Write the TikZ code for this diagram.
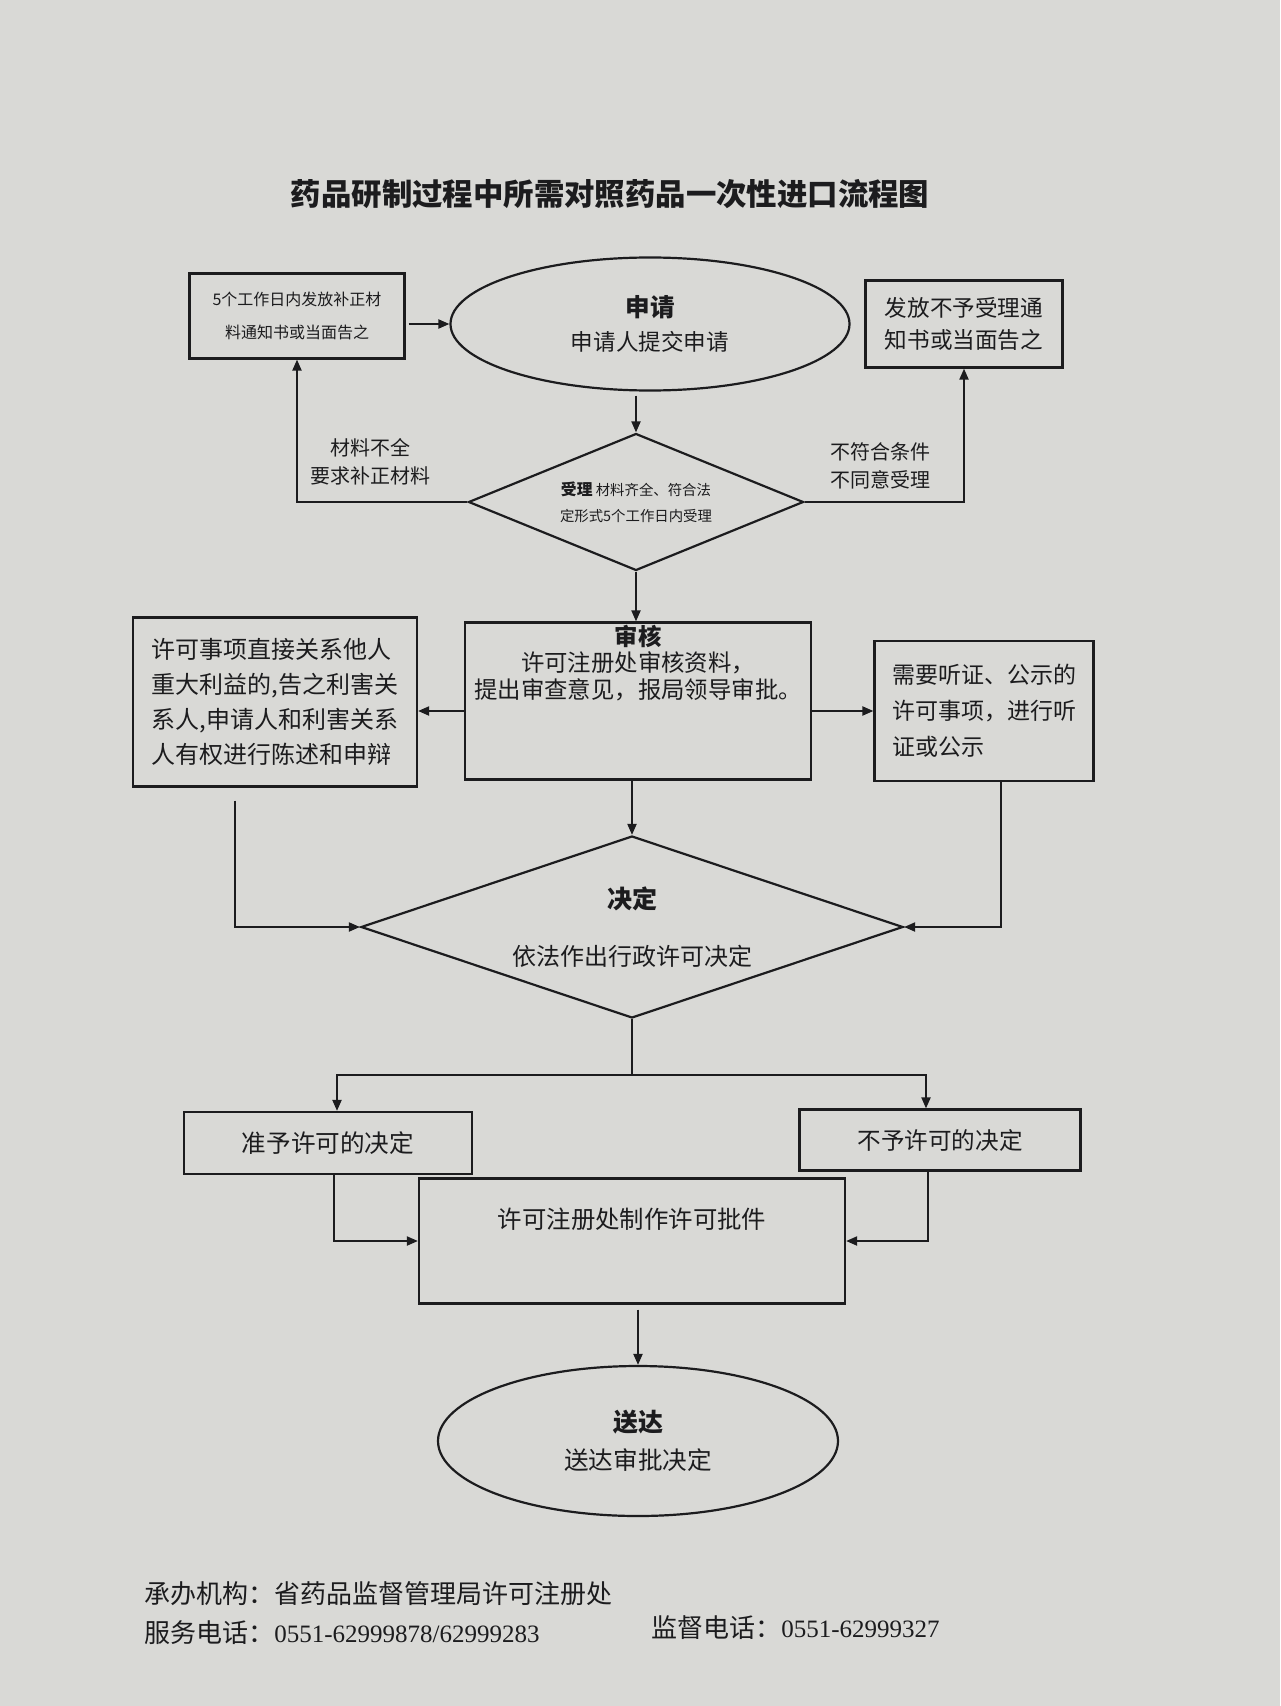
\documentclass[tikz,border=0pt]{standalone}
\usepackage{fontspec}
\setmainfont{Liberation Serif}
\newfontfamily\cjk{Noto Sans CJK SC}
\usetikzlibrary{positioning,arrows.meta,calc,shapes.geometric}
\definecolor{ink}{HTML}{1C1C1E}
\definecolor{paper}{HTML}{D9D9D6}
\newcommand{\fsz}[2]{\fontsize{#1}{#2}\selectfont}

\begin{document}
\begin{tikzpicture}[x=0.5pt,y=-0.5pt,
      box/.style={draw=ink, line width=1.1pt, inner sep=0pt, text=ink, align=center},
      oval/.style={box, ellipse},
      dmd/.style={box, diamond},
      txt/.style={text=ink, inner sep=0pt, align=center},
      darrow/.style={-{Triangle[length=5.5pt,width=4.5pt]}, color=ink, line width=1pt},
      dline/.style={color=ink, line width=1pt},
    ]
      \fill[paper] (0,0) rectangle (1280,1706);
      \useasboundingbox (0,0) rectangle (1280,1706);

      \node[txt, font=\cjk\bfseries\fsz{15.2pt}{18pt}] (title) at (610,194) {药品研制过程中所需对照药品一次性进口流程图};

      % top row
      \node[box, minimum width=107.5pt, minimum height=42.5pt, font=\cjk\fsz{8pt}{16.5pt}] (buzheng) at (297,316) {5个工作日内发放补正材\\料通知书或当面告之};
      \node[oval, minimum width=199.5pt, minimum height=66.5pt, font=\cjk\fsz{11.3pt}{17pt}] (shenqing) at (650,324) {{\bfseries\fsz{12.3pt}{17pt}申请}\\申请人提交申请};
      \node[box, minimum width=98.5pt, minimum height=43.5pt, font=\cjk\fsz{11.3pt}{16pt}] (buyu) at (964,324) {发放不予受理通\\知书或当面告之};

      \node[dmd, shape aspect=2.5, minimum width=167.5pt, minimum height=68.5pt, font=\cjk\fsz{7.2pt}{13pt}] (shouli) at (636,502) {{\bfseries\fsz{7.9pt}{13pt}受理}\ 材料齐全、符合法\\定形式5个工作日内受理};
      \node[txt, font=\cjk\fsz{10pt}{14pt}] (quanlbl) at (370,462) {材料不全\\要求补正材料};
      \node[txt, font=\cjk\fsz{10pt}{14pt}] (fulbl) at (880,466) {不符合条件\\不同意受理};

      % review row
      \node[box, minimum width=173pt, minimum height=78.5pt] (shenhe) at (638,701) {};
      \node[txt, anchor=north, font=\cjk\fsz{11.7pt}{13.3pt}] (shenhetxt) at ($(shenhe.north)+(0,3)$) {{\bfseries 审核}\\许可注册处审核资料，\\提出审查意见，报局领导审批。};
      \node[box, align=left, minimum width=142pt, minimum height=84.5pt, font=\cjk\fsz{12pt}{17.5pt}] (gaozhi) at (275,702) {许可事项直接关系他人\\重大利益的,告之利害关\\系人,申请人和利害关系\\人有权进行陈述和申辩};
      \node[box, align=left, minimum width=109.5pt, minimum height=70pt, font=\cjk\fsz{11.5pt}{18pt}] (tingzheng) at (984,711) {需要听证、公示的\\许可事项，进行听\\证或公示};

      \node[dmd, shape aspect=3, minimum width=271pt, minimum height=91pt, font=\cjk\fsz{12pt}{28.5pt}] (jueding) at (632,927) {{\bfseries\fsz{12.5pt}{28.5pt}决定}\\依法作出行政许可决定};

      % outcome
      \node[box, minimum width=144pt, minimum height=31pt, font=\cjk\fsz{12.3pt}{15pt}] (zhunyu) at (328,1143) {准予许可的决定};
      \node[box, minimum width=140.5pt, minimum height=30.5pt, font=\cjk\fsz{11.8pt}{15pt}] (buyuxuke) at (940,1140) {不予许可的决定};
      \node[box, minimum width=213pt, minimum height=62.5pt] (pijian) at (632,1241) {};
      \node[txt, font=\cjk\fsz{12.2pt}{15pt}] (pijiantxt) at ($(pijian.center)+(0,-22)$) {许可注册处制作许可批件};
      \node[oval, minimum width=200pt, minimum height=75pt, font=\cjk\fsz{12.3pt}{19pt}] (songda) at (638,1441) {{\bfseries\fsz{12.5pt}{19pt}送达}\\送达审批决定};

      % footer
      \node[txt, anchor=west, font=\cjk\fsz{13pt}{16pt}] (chengban) at (144,1594) {承办机构：省药品监督管理局许可注册处};
      \node[txt, anchor=west, font=\cjk\fsz{13pt}{16pt}] (fuwu) at (144,1633) {服务电话：{\rmfamily\fsz{12.5pt}{16pt}0551-62999878/62999283}};
      \node[txt, anchor=west, font=\cjk\fsz{13pt}{16pt}] (jiandu) at (651,1628) {监督电话：{\rmfamily\fsz{12.5pt}{16pt}0551-62999327}};

      % connectors
      \coordinate (gzout) at ($(gaozhi.south)+(-40,13)$);
      \coordinate (tzout) at ($(tingzheng.south)+(17,0)$);
      \coordinate (fenzhi) at ($(jueding.south)+(0,56)$);
      \coordinate (zyin) at ($(zhunyu.north)+(9,0)$);
      \coordinate (zyout) at ($(zhunyu.south)+(6,0)$);
      \coordinate (byin) at ($(buyuxuke.north)+(-14,0)$);
      \coordinate (byout) at ($(buyuxuke.south)+(-12,0)$);

      \draw[darrow, shorten <=1.5pt] (buzheng.east |- shenqing.west) -- (shenqing.west);
      \draw[darrow, shorten <=2pt] (shenqing.south -| shouli.north) -- (shouli.north);
      \draw[darrow] (shouli.west) -| (buzheng.south);
      \draw[darrow] (shouli.east) -| (buyu.south);
      \draw[darrow] (shouli.south) -- (shouli.south |- shenhe.north);
      \draw[darrow] (shenhe.west |- tingzheng.west) -- (gaozhi.east |- tingzheng.west);
      \draw[darrow] (shenhe.east |- tingzheng.west) -- (tingzheng.west);
      \draw[darrow] (shenhe.south -| jueding.north) -- (jueding.north);
      \draw[darrow] (gzout) |- (jueding.west);
      \draw[darrow] (tzout) |- (jueding.east);
      \draw[dline] (jueding.south) -- (fenzhi);
      \draw[darrow] (fenzhi) -| (zyin);
      \draw[darrow] (fenzhi) -| (byin);
      \draw[darrow] (zyout) |- (pijian.west);
      \draw[darrow] (byout) |- (pijian.east);
      \draw[darrow, shorten <=2.5pt] (pijian.south -| songda.north) -- (songda.north);
    \end{tikzpicture}
\end{document}
